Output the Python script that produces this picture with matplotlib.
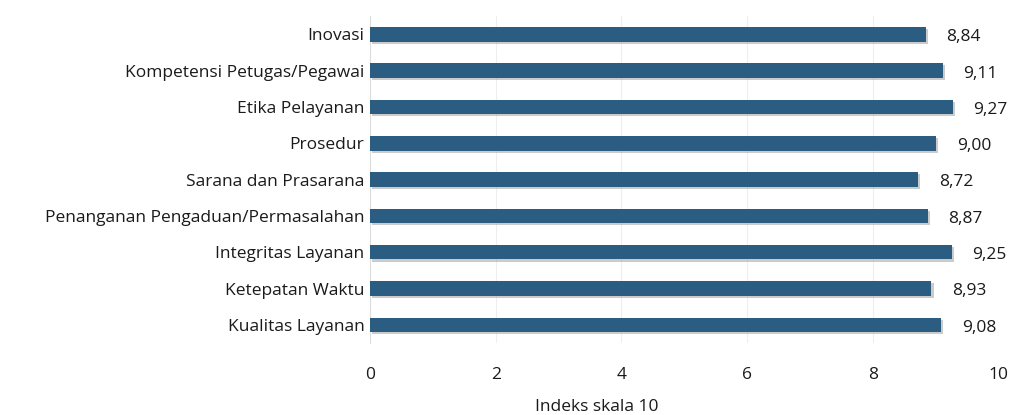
import matplotlib
matplotlib.use("Agg")
import matplotlib.pyplot as plt
import matplotlib.patheffects as pe

categories = ["Inovasi", "Kompetensi Petugas/Pegawai", "Etika Pelayanan", "Prosedur",
              "Sarana dan Prasarana", "Penanganan Pengaduan/Permasalahan",
              "Integritas Layanan", "Ketepatan Waktu", "Kualitas Layanan"]
values = [8.84, 9.11, 9.27, 9.00, 8.72, 8.87, 9.25, 8.93, 9.08]
labels = ["8,84", "9,11", "9,27", "9,00", "8,72", "8,87", "9,25", "8,93", "9,08"]

plt.rcParams['font.family'] = ['Open Sans', 'DejaVu Sans']
fs = 12.5

fig = plt.figure(figsize=(10.15, 4.15), dpi=100)
ax = fig.add_axes([0.3645, 0.1735, 0.6195, 0.7875])

y = list(range(len(categories)))
bars = ax.barh(y, values, height=0.4, color="#2b5c82", zorder=3)
for b in bars:
    b.set_path_effects([pe.SimplePatchShadow(offset=(1.5, -1.5), shadow_rgbFace="#999999", alpha=0.5), pe.Normal()])

for yi, v, t in zip(y, values, labels):
    ax.text(v + 0.33, yi + 0.08, t, va="center", ha="left", fontsize=fs, color="#1a1a1a")

ax.set_xlim(0, 10)
ax.set_ylim(len(categories) - 0.5, -0.5)
ax.set_xticks([0, 2, 4, 6, 8, 10])
ax.set_yticks(y)
ax.set_yticklabels(categories, fontsize=fs, color="#1a1a1a")
ax.tick_params(axis="x", labelsize=fs, colors="#1a1a1a", length=0, pad=17)
ax.tick_params(axis="y", length=0, pad=4)
fig.text(597 / 1015, 1 - 407 / 415, "Indeks skala 10", fontsize=fs, color="#1a1a1a",
         ha="center", va="center")

ax.grid(axis="x", color="#eeeeee", linewidth=0.8, zorder=0)
for s in ["top", "right", "bottom"]:
    ax.spines[s].set_visible(False)
ax.spines["left"].set_color("#dddddd")

fig.savefig("out.png", dpi=100)
